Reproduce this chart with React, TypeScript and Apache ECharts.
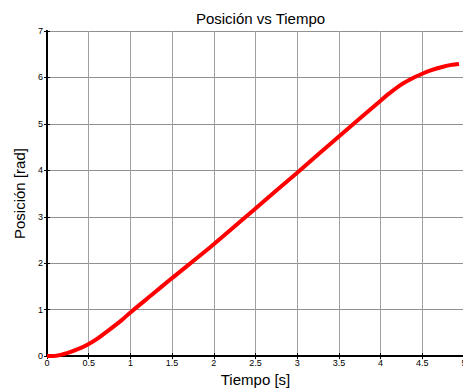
import React, { useEffect, useRef } from "react";
import * as echarts from "echarts";

const timeValues = [0, 0.1, 0.25, 0.4, 0.5, 0.6, 0.75, 0.9, 1, 1.25, 1.5, 2, 2.5, 3, 3.5, 4, 4.1, 4.25, 4.4, 4.5, 4.6, 4.75, 4.85, 4.94];
const positionValues = [0, 0.005, 0.07, 0.17, 0.26, 0.37, 0.57, 0.78, 0.94, 1.31, 1.68, 2.41, 3.18, 3.95, 4.73, 5.5, 5.65, 5.85, 6.0, 6.08, 6.15, 6.23, 6.27, 6.29];

const titleText = "Posición vs Tiempo";
const xName = "Tiempo [s]";
const yName = "Posición [rad]";

export default function App() {
  const ref = useRef<HTMLDivElement>(null);
  useEffect(() => {
    if (!ref.current) return;
    const chart = echarts.init(ref.current, undefined, { renderer: "svg" });
    const font = "'Liberation Sans', Arial, Helvetica, sans-serif";
    const data = timeValues.map((t, i) => [t, positionValues[i]]);
    const axisLine = { show: true, lineStyle: { color: "#000", width: 2 } };
    const axisTick = { show: true, inside: true, length: 3, lineStyle: { color: "#000", width: 1 } };
    chart.setOption({
      animation: false,
      backgroundColor: "#fff",
      title: {
        text: titleText,
        left: 255.5,
        textAlign: "center",
        top: 6,
        textStyle: { fontFamily: font, fontSize: 15, fontWeight: "normal", color: "#000" },
      },
      grid: { left: 47, top: 31, right: 6, height: 329.5, containLabel: false },
      xAxis: [
        {
          type: "value",
          min: 0,
          max: 5,
          interval: 0.5,
          position: "bottom",
          name: xName,
          nameLocation: "middle",
          nameGap: 14,
          nameTextStyle: { fontFamily: font, fontSize: 15, color: "#000" },
          axisLine,
          axisTick,
          axisLabel: { fontFamily: font, fontSize: 9, color: "#000", margin: 2 },
          splitLine: { show: true, lineStyle: { color: "#a0a0a0", width: 1 } },
        },
        {
          type: "value",
          min: 0,
          max: 5,
          interval: 0.5,
          position: "top",
          axisLine,
          axisTick,
          axisLabel: { show: false },
          splitLine: { show: false },
        },
      ],
      yAxis: [
        {
          type: "value",
          min: 0,
          max: 7,
          interval: 1,
          position: "left",
          name: yName,
          nameLocation: "middle",
          nameGap: 16,
          nameTextStyle: { fontFamily: font, fontSize: 15, color: "#000" },
          axisLine,
          axisTick,
          axisLabel: { fontFamily: font, fontSize: 9, color: "#000", margin: 4 },
          splitLine: { show: true, lineStyle: { color: "#909090", width: 1 } },
        },
        {
          type: "value",
          min: 0,
          max: 7,
          interval: 1,
          position: "right",
          axisLine,
          axisTick,
          axisLabel: { show: false },
          splitLine: { show: false },
        },
      ],
      series: [
        {
          type: "line",
          data,
          smooth: 0.25,
          showSymbol: false,
          symbol: "none",
          lineStyle: { color: "#ff0000", width: 4 },
        },
      ],
    });
    return () => chart.dispose();
  }, []);
  return (
    <div
      style={{ position: "fixed", left: 0, top: 0, width: 463, height: 392, overflow: "hidden", background: "#fff" }}
    >
      <div ref={ref} style={{ position: "absolute", left: 0, top: 0, width: 470, height: 392 }} />
    </div>
  );
}
